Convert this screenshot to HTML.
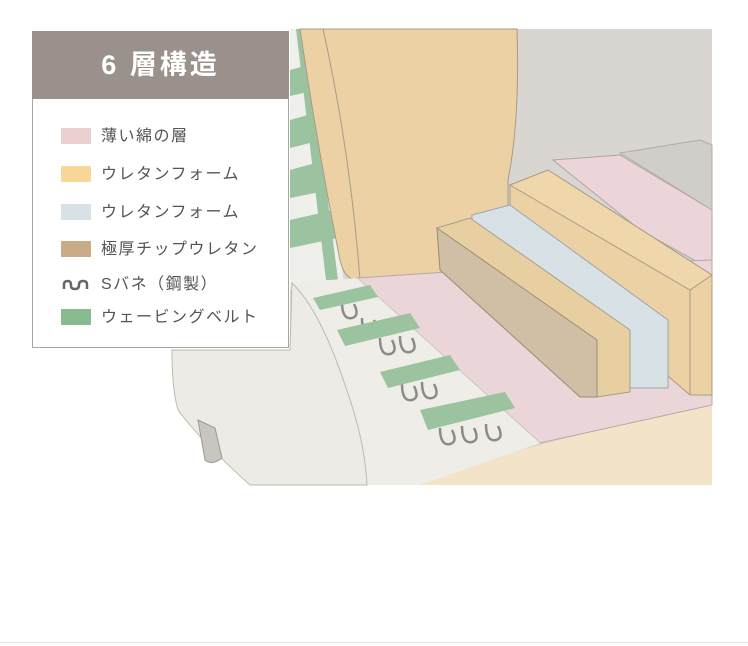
<!DOCTYPE html>
<html><head><meta charset="utf-8"><style>
body{margin:0;background:#fff;width:748px;height:646px;overflow:hidden;position:relative;font-family:"Liberation Sans","Noto Sans CJK JP",sans-serif}
svg{position:absolute;left:0;top:0}
.lg{position:absolute;left:32px;top:31px;width:257px;height:317px;background:#fff;border:1px solid #a9a5a2;box-sizing:border-box}
.hd{height:68px;background:#9a918d;color:#fff;font-size:27px;font-weight:bold;letter-spacing:3px;text-align:center;line-height:68px;margin:-1px -1px 0 -1px}
.r{position:absolute;left:28px;height:17px;font-size:16px;color:#555;letter-spacing:1.5px;line-height:17px}
.r i{display:inline-block;width:30px;height:16px;vertical-align:top;margin-right:10px}
.bl{position:absolute;left:0;top:642px;width:748px;height:1px;background:#e4e4e4}
</style></head><body>
<svg width="748" height="646" viewBox="0 0 748 646">
<rect x="290" y="29" width="422" height="456" fill="#d9d6d1"/>
<polygon points="290,29 310,29 345,290 290,290" fill="#efefeb"/>
<g fill="#9cc3a0">
<polygon points="290,70 312,64 316,90 290,96"/>
<polygon points="290,120 318,112 322,140 290,148"/>
<polygon points="290,170 326,160 330,190 290,198"/>
<polygon points="290,220 334,210 338,238 290,248"/>
<polygon points="296,29 306,29 338,280 326,280"/>
</g>
<path d="M300,29 L517,29 Q520,120 508,180 L508,270 L360,280 Q345,282 340,260 Q318,150 300,29Z" fill="#ebd1a4" stroke="#a89c86" stroke-width="1"/>
<path d="M323,29 Q350,150 360,280" fill="none" stroke="#a89c86" stroke-width="1"/>
<polygon points="553,160 620,155 712,210 712,270 640,230" fill="#ebd5d8" stroke="#b0a4a4"/>
<polygon points="620,153 700,140 712,145 712,210" fill="#d1cec9" stroke="#b0aca8"/>
<polygon points="420,485 712,485 712,400 540,445 500,455" fill="#f2e3c9"/>
<polygon points="357,278 508,268 712,260 712,405 540,443" fill="#ead6d9" stroke="#b8a7a7"/>
<polygon points="290,283 357,278 540,443 420,485 367,485 330,380" fill="#efede7"/>
<g fill="none" stroke="#8a8a8a" stroke-width="2.5">
<path d="M342,302 q0,18 10,16 q8,-2 2,-14"/><path d="M362,318 q0,18 10,16 q8,-2 2,-14"/>
<path d="M380,338 q0,18 10,16 q8,-2 2,-14"/><path d="M400,336 q0,18 10,16 q8,-2 2,-14"/>
<path d="M402,384 q0,18 10,16 q8,-2 2,-14"/><path d="M422,382 q0,18 10,16 q8,-2 2,-14"/>
<path d="M440,428 q0,18 10,16 q8,-2 2,-14"/><path d="M462,426 q0,18 10,16 q8,-2 2,-14"/><path d="M486,424 q0,18 10,16 q8,-2 2,-14"/>
</g>
<g fill="#9cc3a0">
<polygon points="313,298 370,285 378,297 320,310"/>
<polygon points="337,330 410,313 420,328 345,346"/>
<polygon points="380,372 450,355 460,370 388,388"/>
<polygon points="420,410 505,392 515,408 428,430"/>
</g>
<path d="M172,350 L290,350 L292,283 Q320,310 345,385 Q365,440 367,485 L250,485 Q200,440 178,410 Q172,390 172,350Z" fill="#ecebe6" stroke="#bdbab2"/>
<path d="M198,420 L205,460 Q212,466 222,458 L215,428Z" fill="#c9c6c0" stroke="#999"/>
<polygon points="510,185 548,170 712,275 712,395 690,395 510,240" fill="#ebd1a4" stroke="#a89c86"/>
<polygon points="510,185 548,170 712,275 690,290" fill="#efd7ab" stroke="#a89c86"/>
<line x1="690" y1="290" x2="690" y2="395" stroke="#a89c86"/>
<polygon points="472,215 510,205 668,320 668,388 630,388 472,240" fill="#d8e2e6" stroke="#9ba5aa"/>
<polygon points="437,228 470,218 630,330 630,392 597,397 440,268" fill="#e8cfa2" stroke="#a89c86"/>
<polygon points="437,228 597,340 597,397 580,397 440,270" fill="#d0bfa4" stroke="#9b8c75"/>
</svg>
<div class="lg"><div class="hd">6 層構造</div>
<div class="r" style="top:96px"><i style="background:#ebcfd1"></i>薄い綿の層</div>
<div class="r" style="top:134px"><i style="background:#f7d898"></i>ウレタンフォーム</div>
<div class="r" style="top:172px"><i style="background:#d8e2e6"></i>ウレタンフォーム</div>
<div class="r" style="top:209px"><i style="background:#c8ac87"></i>極厚チップウレタン</div>
<div class="r" style="top:244px"><i style="background:none;position:relative"><svg width="30" height="16" style="position:absolute;left:0;top:0"><path d="M3,13 L3,8 Q3,5 7,5 Q10,5 10,9 L10,10 Q10,13 14,13 Q18,13 18,9 Q18,5 22,5 Q26,5 26,8 L26,13" fill="none" stroke="#666" stroke-width="2.5"/></svg></i>Sバネ（鋼製）</div>
<div class="r" style="top:277px"><i style="background:#88bb8e"></i>ウェービングベルト</div>
</div>
<div class="bl"></div>
</body></html>
